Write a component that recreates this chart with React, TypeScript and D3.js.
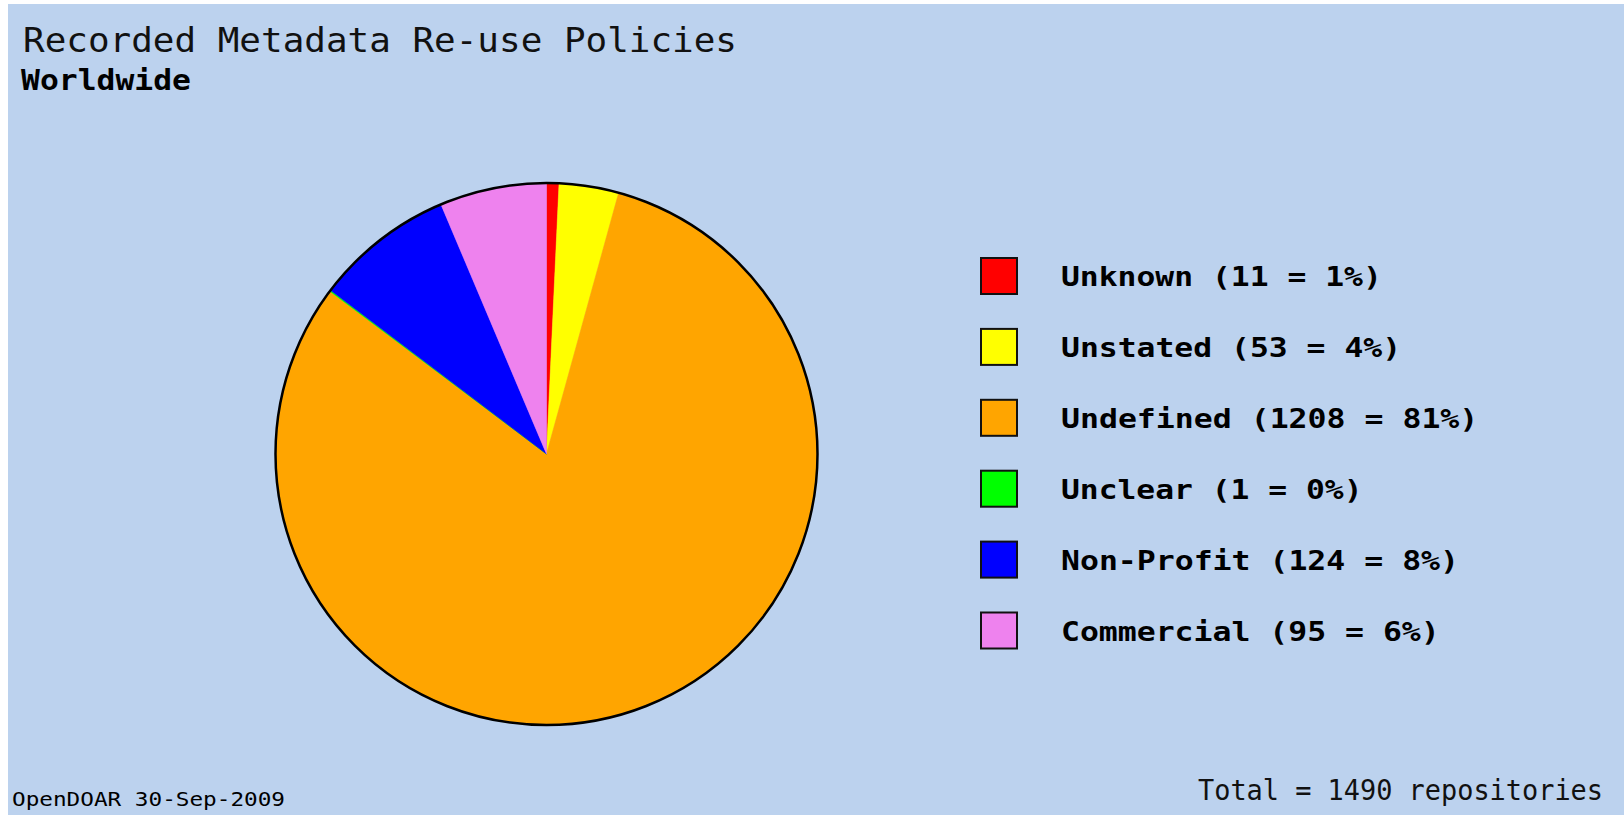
import React, { useEffect, useRef } from 'react';
import * as d3 from 'd3';

// Data
const categories = ['Unknown', 'Unstated', 'Undefined', 'Unclear', 'Non-Profit', 'Commercial'];
const counts = [11, 53, 1208, 1, 124, 95];
const percents = [1, 4, 81, 0, 8, 6];
const colors = ['#ff0000', '#ffff00', '#ffa500', '#00ff00', '#0000ff', '#ee82ee'];
const totalRepositories = 1490;
const titleText = 'Recorded Metadata Re-use Policies';
const subtitleText = 'Worldwide';
const sourceText = 'OpenDOAR 30-Sep-2009';

interface Slice {
  name: string;
  count: number;
  pct: number;
  color: string;
}

const W = 1624;
const H = 815;

const App: React.FC = () => {
  const svgRef = useRef<SVGSVGElement>(null);

  useEffect(() => {
    if (!svgRef.current) return;
    const svg = d3.select(svgRef.current);
    svg.selectAll('*').remove();

    const data: Slice[] = categories.map((name, i) => ({
      name,
      count: counts[i],
      pct: percents[i],
      color: colors[i],
    }));

    // background (thin white strip on left/top like the original image)
    svg.append('rect').attr('width', W).attr('height', H).attr('fill', '#ffffff');
    svg.append('rect')
      .attr('x', 8).attr('y', 4)
      .attr('width', W - 8).attr('height', H - 4)
      .attr('fill', '#bcd2ee');

    const mono = "'DejaVu Sans Mono', 'Liberation Mono', monospace";

    // Titles
    svg.append('text')
      .attr('x', 23).attr('y', 52)
      .attr('font-family', mono)
      .attr('font-size', 34)
      .attr('fill', '#111')
      .attr('textLength', 714)
      .attr('lengthAdjust', 'spacingAndGlyphs')
      .text(titleText);

    svg.append('text')
      .attr('x', 21).attr('y', 90)
      .attr('font-family', mono)
      .attr('font-size', 28)
      .attr('font-weight', 'bold')
      .attr('fill', '#000')
      .attr('textLength', 170)
      .attr('lengthAdjust', 'spacingAndGlyphs')
      .text(subtitleText);

    // Pie
    const cx = 546.5;
    const cy = 454;
    const r = 271;

    const pie = d3.pie<Slice>().sort(null).value(d => d.count);
    const arc = d3.arc<d3.PieArcDatum<Slice>>().innerRadius(0).outerRadius(r);

    const g = svg.append('g').attr('transform', `translate(${cx},${cy})`);
    g.selectAll('path.slice')
      .data(pie(data))
      .enter()
      .append('path')
      .attr('class', 'slice')
      .attr('d', arc)
      .attr('fill', d => d.data.color)
      .attr('stroke', d => d.data.color)
      .attr('stroke-width', 0.5);

    g.append('circle')
      .attr('r', r)
      .attr('fill', 'none')
      .attr('stroke', '#000')
      .attr('stroke-width', 2.5);

    // Legend
    const legendY = d3.scalePoint<string>()
      .domain(categories)
      .range([275.5, 630]);

    const legend = svg.append('g');
    const rows = legend.selectAll('g.row')
      .data(data)
      .enter()
      .append('g')
      .attr('class', 'row')
      .attr('transform', d => `translate(0,${legendY(d.name)})`);

    rows.append('rect')
      .attr('x', 981).attr('y', -17.5)
      .attr('width', 36).attr('height', 36)
      .attr('fill', d => d.color)
      .attr('stroke', '#111')
      .attr('stroke-width', 2);

    rows.append('text')
      .attr('x', 1061).attr('y', 10.5)
      .attr('font-family', mono)
      .attr('font-size', 27)
      .attr('font-weight', 'bold')
      .attr('fill', '#000')
      .each(function (d) {
        const label = `${d.name} (${d.count} = ${d.pct}%)`;
        d3.select(this)
          .attr('textLength', (label.length - 1) * 19.3 + 12)
          .attr('lengthAdjust', 'spacingAndGlyphs')
          .text(label);
      });

    // Footer
    svg.append('text')
      .attr('x', 12).attr('y', 806)
      .attr('font-family', mono)
      .attr('font-size', 20)
      .attr('fill', '#000')
      .attr('textLength', 273)
      .attr('lengthAdjust', 'spacingAndGlyphs')
      .text(sourceText);

    svg.append('text')
      .attr('x', 1198).attr('y', 800)
      .attr('font-family', mono)
      .attr('font-size', 28)
      .attr('fill', '#111')
      .attr('textLength', 405)
      .attr('lengthAdjust', 'spacingAndGlyphs')
      .text(`Total = ${totalRepositories} repositories`);
  }, []);

  return (
    <div style={{ position: 'absolute', left: 0, top: 0, width: W, height: H }}>
      <svg ref={svgRef} width={W} height={H} style={{ display: 'block' }} />
    </div>
  );
};

export default App;
